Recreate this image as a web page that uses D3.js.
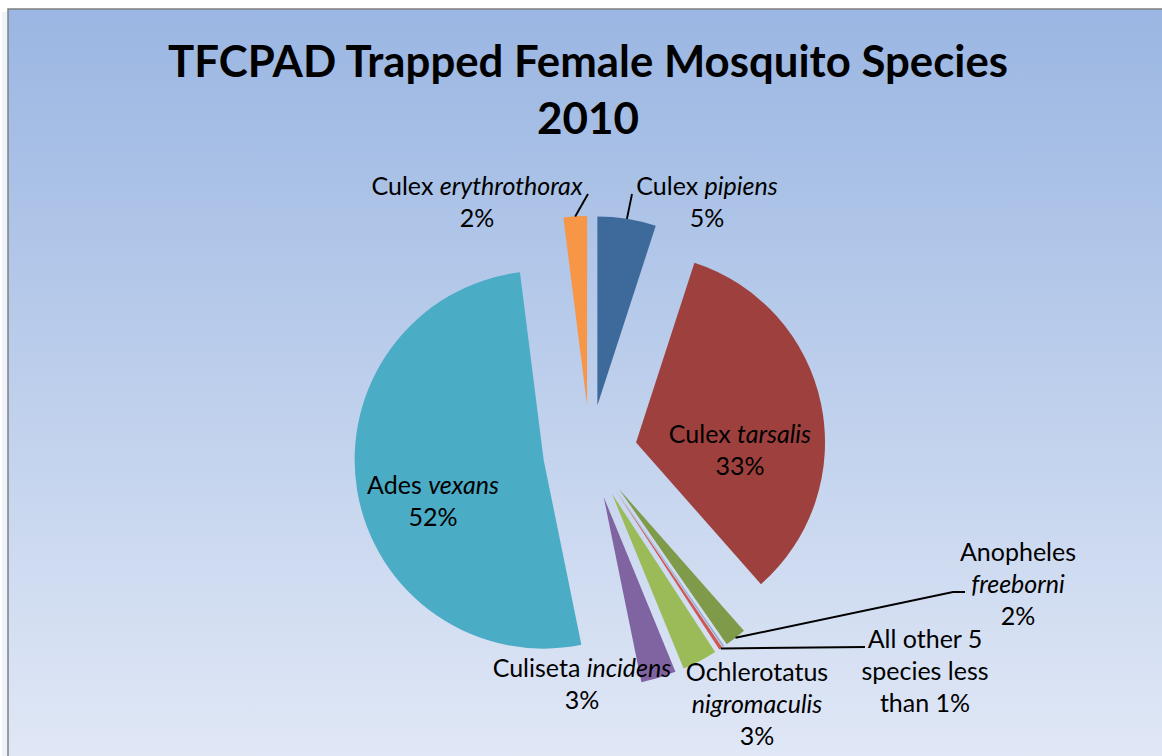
<!DOCTYPE html>
<html>
<head>
<meta charset="utf-8">
<script src="https://cdn.jsdelivr.net/npm/d3@7"></script>
<style>
  body { margin: 0; background: #fff; }
  svg { display: block; font-family: Lato, "Open Sans", sans-serif; }
</style>
</head>
<body>
<svg id="chart"></svg>
<script>
// slices clockwise from 12 o'clock
var genus = ['Culex', 'Culex', 'Anopheles', '', 'All other 5 species less than 1%', 'Ochlerotatus', 'Culiseta', 'Ades', 'Culex'];
var epithet = ['pipiens', 'tarsalis', 'freeborni', '', '', 'nigromaculis', 'incidens', 'vexans', 'erythrothorax'];
var shares = [5.0, 33.5, 1.85, 0.15, 0.3, 3.0, 3.0, 51.2, 2.0];
var pctText = ['5%', '33%', '2%', '', '', '3%', '3%', '52%', '2%'];
var titleLines = ['TFCPAD Trapped Female Mosquito Species', '2010'];

var colors = ['#3e6a9b', '#9e413e', '#7f9a48', '#93abcc', '#cf5652', '#9bbb59', '#8064a2', '#4bacc6', '#f79646'];

// label placement: text block centre x / first baseline y, how the text is broken, leader points
var labelLayout = [
  { x: 707, y: 195, mode: 'inline', leader: [[632, 194]] },
  { x: 740, y: 443, mode: 'inline', leader: null },
  { x: 1018, y: 561, mode: 'stack', leader: [[953, 592], [965, 592]] },
  null,
  { x: 925, y: 648, mode: 'wrap', leader: [[865, 647]] },
  { x: 757, y: 681, mode: 'stack', leader: null },
  { x: 582, y: 677, mode: 'inline', leader: null },
  { x: 433, y: 494, mode: 'inline', leader: null },
  { x: 477, y: 195, mode: 'inline', leader: [[588, 194]] }
];

var W = 1162, H = 756;
var cx = 590, cy = 452, R = 189, explode = 47;
var lineStep = 32;

var svg = d3.select('#chart').attr('width', W).attr('height', H);

var grad = svg.append('defs').append('linearGradient')
  .attr('id', 'bg').attr('x1', 0).attr('y1', 0).attr('x2', 0).attr('y2', 1);
grad.append('stop').attr('offset', '0%').attr('stop-color', '#9ab6e2');
grad.append('stop').attr('offset', '100%').attr('stop-color', '#e1e8f6');

// faint shadow left of the frame
svg.append('rect').attr('x', 2).attr('y', 12).attr('width', 6).attr('height', H)
  .attr('fill', '#eef2fa');
svg.append('rect').attr('x', 8).attr('y', 9).attr('width', W).attr('height', H)
  .attr('fill', 'url(#bg)');
svg.append('path').attr('d', 'M8,' + H + 'V9H' + W)
  .attr('fill', 'none').attr('stroke', '#808080').attr('stroke-width', 1.5);

// title
svg.append('text').attr('x', 588).attr('y', 77)
  .attr('text-anchor', 'middle').attr('font-weight', 'bold').attr('font-size', 44)
  .attr('textLength', 840).attr('lengthAdjust', 'spacingAndGlyphs')
  .text(titleLines[0]);
svg.append('text').attr('x', 588).attr('y', 134)
  .attr('text-anchor', 'middle').attr('font-weight', 'bold').attr('font-size', 44)
  .text(titleLines[1]);

var arcs = d3.pie().sort(null).value(d => d)(shares);
var arc = d3.arc().innerRadius(0).outerRadius(R);
var mid = d => (d.startAngle + d.endAngle) / 2;

var g = svg.append('g').attr('transform', 'translate(' + cx + ',' + cy + ')');
g.selectAll('path').data(arcs).join('path')
  .attr('transform', d => 'translate(' + (explode * Math.sin(mid(d))) + ',' + (-explode * Math.cos(mid(d))) + ')')
  .attr('d', arc)
  .attr('fill', (d, i) => colors[i]);

// leader lines: from the slice's outer midpoint to the label
var line = d3.line();
arcs.forEach((d, i) => {
  var lay = labelLayout[i];
  if (!lay || !lay.leader) return;
  var a = mid(d), r = R + explode;
  var pts = [[cx + r * Math.sin(a), cy - r * Math.cos(a)]].concat(lay.leader);
  svg.append('path').attr('d', line(pts))
    .attr('fill', 'none').attr('stroke', '#000').attr('stroke-width', 1.9);
});

function wrapWords(s, maxChars) {
  var out = [], cur = '';
  s.split(' ').forEach(w => {
    if (cur && (cur + ' ' + w).length > maxChars) { out.push(cur); cur = w; }
    else cur = cur ? cur + ' ' + w : w;
  });
  if (cur) out.push(cur);
  return out;
}

// labels
arcs.forEach((d, i) => {
  var lay = labelLayout[i];
  if (!lay) return;
  var lines;
  if (lay.mode === 'inline') {
    lines = [[[genus[i] + ' ', false], [epithet[i], true]], [[pctText[i], false]]];
  } else if (lay.mode === 'stack') {
    lines = [[[genus[i], false]], [[epithet[i], true]], [[pctText[i], false]]];
  } else {
    lines = wrapWords(genus[i], 12).map(s => [[s, false]]);
  }
  var t = svg.append('text').attr('text-anchor', 'middle').attr('font-size', 25).attr('fill', '#000');
  lines.forEach((segs, k) => {
    segs.forEach((s, j) => {
      var ts = t.append('tspan').text(s[0]).attr('xml:space', 'preserve')
        .attr('font-style', s[1] ? 'italic' : 'normal');
      if (j === 0) ts.attr('x', lay.x).attr('y', lay.y + k * lineStep);
    });
  });
});
</script>
</body>
</html>
